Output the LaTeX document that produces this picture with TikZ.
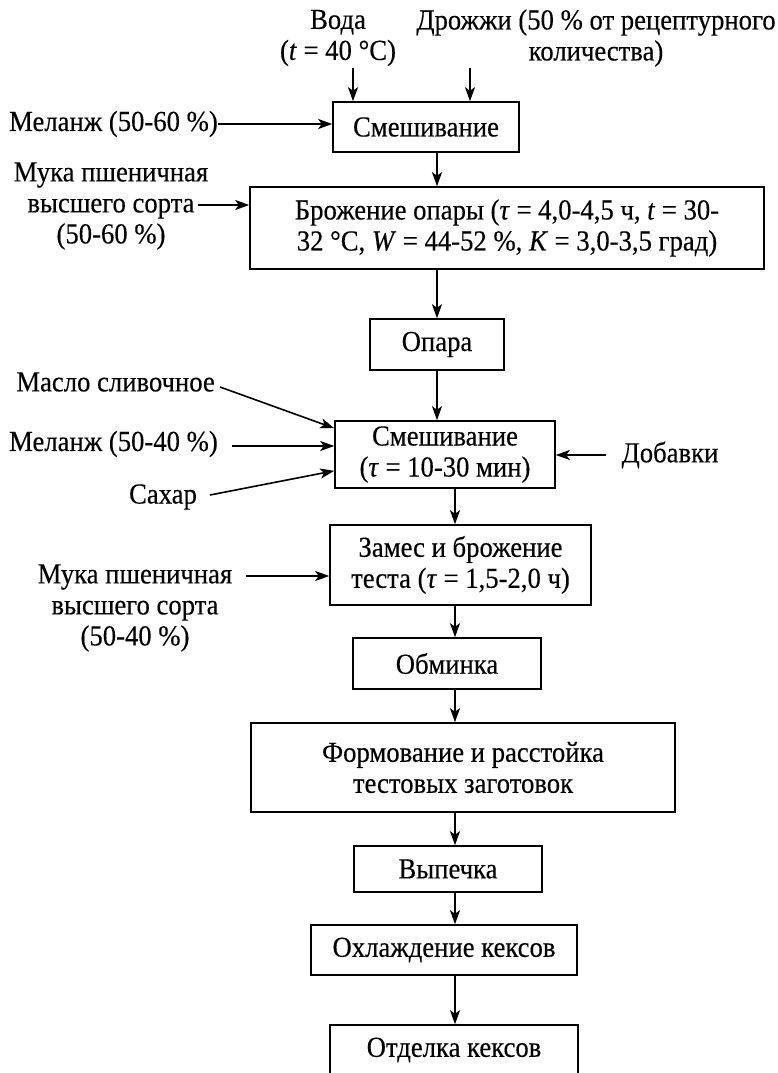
\documentclass[tikz,border=0pt]{standalone}
\usepackage{fontspec}
\setmainfont{Liberation Serif}[FakeStretch=0.92,FakeBold=0.3]
\usetikzlibrary{arrows.meta,calc}
\newcommand\flowsize{\fontsize{29}{31}\selectfont}
\begin{document}
\begin{tikzpicture}[x=1pt,y=-1pt,
  box/.style={draw, line width=1.6pt, inner sep=0pt, align=center, font=\flowsize},
  lbl/.style={inner sep=0pt, align=center, font=\flowsize},
  arr/.style={line width=1.6pt, -{Stealth[length=14pt,width=10pt,inset=3.5pt]}}]
\useasboundingbox (0,0) rectangle (778,1073);
\clip (0,0) rectangle (778,1073);

% process steps
\node[box, minimum width=186pt, minimum height=50pt] (b1) at (426,127) {Смешивание};
\node[box, minimum width=514pt, minimum height=82pt] (b2) at (507,228)
  {Брожение опары (\textit{τ} = 4,0-4,5 ч, \textit{t} = 30-\\32 °C, \textit{W} = 44-52 \%, \textit{K} = 3,0-3,5 град)};
\node[box, minimum width=134pt, minimum height=51pt] (b3) at (437,344.5) {Опара};
\node[box, minimum width=220pt, minimum height=67pt] (b4) at (445,454.5) {Смешивание\\(\textit{τ} = 10-30 мин)};
\node[box, minimum width=261pt, minimum height=80pt] (b5) at (460.5,565) {Замес и брожение\\теста (\textit{τ} = 1,5-2,0 ч)};
\node[box, minimum width=188pt, minimum height=51pt] (b6) at (447,663.5) {Обминка};
\node[box, minimum width=424pt, minimum height=89pt] (b7) at (463,767.5) {Формование и расстойка\\тестовых заготовок};
\node[box, minimum width=188pt, minimum height=46pt] (b8) at (448,869) {Выпечка};
\node[box, minimum width=266pt, minimum height=50pt] (b9) at (444,950) {Охлаждение кексов};
\node[box, minimum width=248pt, minimum height=50pt] (b10) at (454,1050) {Отделка кексов};

% ingredients
\node[lbl] (water) at (338,38) {Вода\\(\textit{t} = 40 °C)};
\node[lbl] (yeast) at (596,38) {Дрожжи (50 \% от рецептурного\\количества)};
\node[lbl, anchor=east] (mel1) at (218,124) {Меланж (50-60 \%)};
\node[lbl] (flour1) at (111,206) {Мука пшеничная\\высшего сорта\\(50-60 \%)};
\node[lbl, anchor=east] (butter) at (215,382) {Масло сливочное};
\node[lbl, anchor=east] (mel2) at (218,444) {Меланж (50-40 \%)};
\node[lbl] (sugar) at (163,497) {Сахар};
\node[lbl] (add) at (670,455) {Добавки};
\node[lbl] (flour2) at (135,608) {Мука пшеничная\\высшего сорта\\(50-40 \%)};

% connector ends and columns
\coordinate (col1) at (437,0);
\coordinate (col2) at (455,0);
\coordinate (wA) at (353,68);
\coordinate (yA) at (470,68);
\coordinate (f1A) at (198,205);
\coordinate (buA) at (220,387);
\coordinate (m2A) at (232,446);
\coordinate (suA) at (210,495);
\coordinate (adA) at (606,455);
\coordinate (f2A) at (246,576);

% inputs
\draw[arr] (wA) -- (wA |- b1.north);
\draw[arr] (yA) -- (yA |- b1.north);
\draw[arr] (mel1.east) -- (b1.west |- mel1.east);
\draw[arr] (f1A) -- (b2.west |- f1A);
\draw[arr] (buA) -- ($(b4.north west)+(0,8)$);
\draw[arr] (m2A) -- (b4.west |- m2A);
\draw[arr] (suA) -- ($(b4.south west)+(0,-18)$);
\draw[arr] (adA) -- (b4.east |- adA);
\draw[arr] (f2A) -- (b5.west |- f2A);

% main flow
\draw[arr] (col1 |- b1.south) -- (col1 |- b2.north);
\draw[arr] (col1 |- b2.south) -- (b3.north);
\draw[arr] (b3.south) -- (col1 |- b4.north);
\draw[arr] (col2 |- b4.south) -- (col2 |- b5.north);
\draw[arr] (col2 |- b5.south) -- (col2 |- b6.north);
\draw[arr] (col2 |- b6.south) -- (col2 |- b7.north);
\draw[arr] (col2 |- b7.south) -- (col2 |- b8.north);
\draw[arr] (col2 |- b8.south) -- (col2 |- b9.north);
\draw[arr] (col2 |- b9.south) -- (col2 |- b10.north);
\end{tikzpicture}
\end{document}
